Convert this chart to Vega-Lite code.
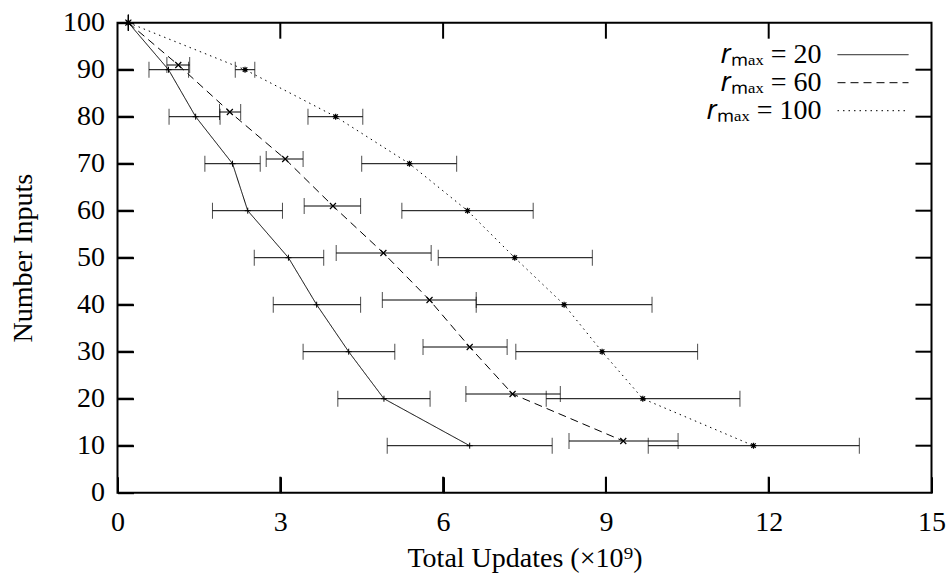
{
  "$schema": "https://vega.github.io/schema/vega-lite/v6.json",
  "width": 814,
  "height": 470,
  "autosize": {"type": "none"},
  "padding": {"left": 117.5, "top": 22.7, "right": 15.5, "bottom": 80.3},
  "background": "white",
  "config": {
    "font": "Liberation Serif",
    "view": {"stroke": "black", "strokeWidth": 2, "fill": null},
    "axis": {
      "labelFont": "Liberation Serif",
      "labelFontSize": 28,
      "labelColor": "black",
      "titleFont": "Liberation Serif",
      "titleFontSize": 28,
      "titleFontWeight": "normal",
      "titleColor": "black",
      "tickColor": "black",
      "tickWidth": 2,
      "tickSize": 16,
      "offset": -16,
      "zindex": 1,
      "domain": false,
      "grid": false,
      "labelFlush": false,
      "labelOverlap": false
    }
  },
  "datasets": {
    "points": [
      {"series": "20", "y": 100, "x": 0.2, "lo": 0.2, "hi": 0.2},
      {"series": "20", "y": 90, "x": 0.94, "lo": 0.58, "hi": 1.31},
      {"series": "20", "y": 80, "x": 1.44, "lo": 0.95, "hi": 1.89},
      {"series": "20", "y": 70, "x": 2.12, "lo": 1.61, "hi": 2.63},
      {"series": "20", "y": 60, "x": 2.40, "lo": 1.75, "hi": 3.04},
      {"series": "20", "y": 50, "x": 3.15, "lo": 2.52, "hi": 3.80},
      {"series": "20", "y": 40, "x": 3.67, "lo": 2.87, "hi": 4.48},
      {"series": "20", "y": 30, "x": 4.26, "lo": 3.42, "hi": 5.11},
      {"series": "20", "y": 20, "x": 4.91, "lo": 4.06, "hi": 5.76},
      {"series": "20", "y": 10, "x": 6.49, "lo": 4.97, "hi": 8.01},
      {"series": "60", "y": 100, "x": 0.2, "lo": 0.2, "hi": 0.2},
      {"series": "60", "y": 91, "x": 1.12, "lo": 0.91, "hi": 1.33},
      {"series": "60", "y": 81, "x": 2.07, "lo": 1.88, "hi": 2.27},
      {"series": "60", "y": 71, "x": 3.09, "lo": 2.74, "hi": 3.42},
      {"series": "60", "y": 61, "x": 3.97, "lo": 3.44, "hi": 4.48},
      {"series": "60", "y": 51, "x": 4.90, "lo": 4.03, "hi": 5.78},
      {"series": "60", "y": 41, "x": 5.75, "lo": 4.88, "hi": 6.61},
      {"series": "60", "y": 31, "x": 6.49, "lo": 5.63, "hi": 7.18},
      {"series": "60", "y": 21, "x": 7.28, "lo": 6.42, "hi": 8.16},
      {"series": "60", "y": 11, "x": 9.32, "lo": 8.32, "hi": 10.33},
      {"series": "100", "y": 100, "x": 0.2, "lo": 0.2, "hi": 0.2},
      {"series": "100", "y": 90, "x": 2.35, "lo": 2.17, "hi": 2.53},
      {"series": "100", "y": 80, "x": 4.02, "lo": 3.51, "hi": 4.52},
      {"series": "100", "y": 70, "x": 5.38, "lo": 4.50, "hi": 6.25},
      {"series": "100", "y": 60, "x": 6.45, "lo": 5.24, "hi": 7.66},
      {"series": "100", "y": 50, "x": 7.32, "lo": 5.91, "hi": 8.75},
      {"series": "100", "y": 40, "x": 8.23, "lo": 6.61, "hi": 9.85},
      {"series": "100", "y": 30, "x": 8.93, "lo": 7.34, "hi": 10.69},
      {"series": "100", "y": 20, "x": 9.68, "lo": 7.90, "hi": 11.47},
      {"series": "100", "y": 10, "x": 11.72, "lo": 9.78, "hi": 13.67}
    ],
    "xticks": [{"v": 3}, {"v": 6}, {"v": 9}, {"v": 12}],
    "yticks": [{"v": 10}, {"v": 20}, {"v": 30}, {"v": 40}, {"v": 50}, {"v": 60}, {"v": 70}, {"v": 80}, {"v": 90}]
  },
  "data": {"name": "points"},
  "resolve": {"axis": {"x": "independent", "y": "independent"}},
  "layer": [
    {
      "mark": {"type": "rule", "color": "black", "strokeWidth": 1},
      "encoding": {
        "x": {
          "field": "lo", "type": "quantitative",
          "scale": {"domain": [0, 15], "nice": false, "zero": false},
          "axis": {"values": [0, 3, 6, 9, 12, 15], "ticks": true, "tickOpacity": 1, "labelPadding": 16, "title": "Total Updates (×10⁹)", "titleY": 89.3, "titleBaseline": "alphabetic"}
        },
        "x2": {"field": "hi"},
        "y": {
          "field": "y", "type": "quantitative",
          "scale": {"domain": [0, 100], "nice": false, "zero": false},
          "axis": {"values": [0, 10, 20, 30, 40, 50, 60, 70, 80, 90, 100], "ticks": true, "tickOpacity": 1, "labelPadding": 13, "title": "Number Inputs", "titleX": -110, "titleY": 235, "titleBaseline": "middle", "titleAngle": -90}
        }
      }
    },
    {
      "data": {"name": "xticks"},
      "mark": {"type": "rule", "color": "black", "strokeWidth": 2},
      "encoding": {
        "x": {"field": "v", "type": "quantitative", "axis": null},
        "y": {"datum": 0, "type": "quantitative", "axis": null},
        "y2": {"datum": 3.4}
      }
    },
    {
      "data": {"name": "xticks"},
      "mark": {"type": "rule", "color": "black", "strokeWidth": 2},
      "encoding": {
        "x": {"field": "v", "type": "quantitative", "axis": null},
        "y": {"datum": 100, "type": "quantitative", "axis": null},
        "y2": {"datum": 96.6}
      }
    },
    {
      "data": {"name": "yticks"},
      "mark": {"type": "rule", "color": "black", "strokeWidth": 2},
      "encoding": {
        "y": {"field": "v", "type": "quantitative", "axis": null},
        "x": {"datum": 0, "type": "quantitative", "axis": null},
        "x2": {"datum": 0.295}
      }
    },
    {
      "data": {"name": "yticks"},
      "mark": {"type": "rule", "color": "black", "strokeWidth": 2},
      "encoding": {
        "y": {"field": "v", "type": "quantitative", "axis": null},
        "x": {"datum": 15, "type": "quantitative", "axis": null},
        "x2": {"datum": 14.705}
      }
    },
    {
      "mark": {"type": "tick", "orient": "vertical", "color": "black", "size": 16, "thickness": 1},
      "encoding": {
        "x": {"field": "lo", "type": "quantitative", "axis": null},
        "y": {"field": "y", "type": "quantitative", "axis": null}
      }
    },
    {
      "mark": {"type": "tick", "orient": "vertical", "color": "black", "size": 16, "thickness": 1},
      "encoding": {
        "x": {"field": "hi", "type": "quantitative", "axis": null},
        "y": {"field": "y", "type": "quantitative", "axis": null}
      }
    },
    {
      "mark": {"type": "line", "color": "black", "strokeWidth": 1},
      "encoding": {
        "x": {"field": "x", "type": "quantitative", "axis": null},
        "y": {"field": "y", "type": "quantitative", "axis": null},
        "order": {"field": "y", "sort": "descending"},
        "strokeDash": {
          "field": "series", "type": "nominal",
          "scale": {"domain": ["20", "60", "100"], "range": [[1, 0], [8, 5], [1.5, 4]]},
          "legend": {
            "orient": "none",
            "legendX": 742,
            "legendY": 18,
            "padding": 0,
            "title": null,
            "symbolType": "M-3.6,0H3.5",
            "symbolSize": 400,
            "symbolStrokeWidth": 1,
            "symbolStrokeColor": "black",
            "labelAlign": "right",
            "labelOffset": -66,
            "labelFont": "Liberation Serif",
            "labelFontSize": 28,
            "labelColor": "black",
            "labelLimit": 400,
            "rowPadding": 0,
            "labelExpr": "'𝑟ₘₐₓ = ' + datum.label"
          }
        }
      }
    },
    {
      "transform": [{"filter": "datum.series === '20'"}],
      "mark": {"type": "point", "filled": false, "color": "black", "strokeWidth": 1, "size": 36, "opacity": 1, "shape": "M-1,0H1M0,-1V1"},
      "encoding": {
        "x": {"field": "x", "type": "quantitative", "axis": null},
        "y": {"field": "y", "type": "quantitative", "axis": null}
      }
    },
    {
      "transform": [{"filter": "datum.series === '60'"}],
      "mark": {"type": "point", "filled": false, "color": "black", "strokeWidth": 1.2, "size": 36, "opacity": 1, "shape": "M-1,-1L1,1M-1,1L1,-1"},
      "encoding": {
        "x": {"field": "x", "type": "quantitative", "axis": null},
        "y": {"field": "y", "type": "quantitative", "axis": null}
      }
    },
    {
      "transform": [{"filter": "datum.series === '100'"}],
      "mark": {"type": "point", "filled": false, "color": "black", "strokeWidth": 1.2, "size": 36, "opacity": 1, "shape": "M-1,0H1M0,-1V1M-0.75,-0.75L0.75,0.75M-0.75,0.75L0.75,-0.75"},
      "encoding": {
        "x": {"field": "x", "type": "quantitative", "axis": null},
        "y": {"field": "y", "type": "quantitative", "axis": null}
      }
    }
  ]
}
